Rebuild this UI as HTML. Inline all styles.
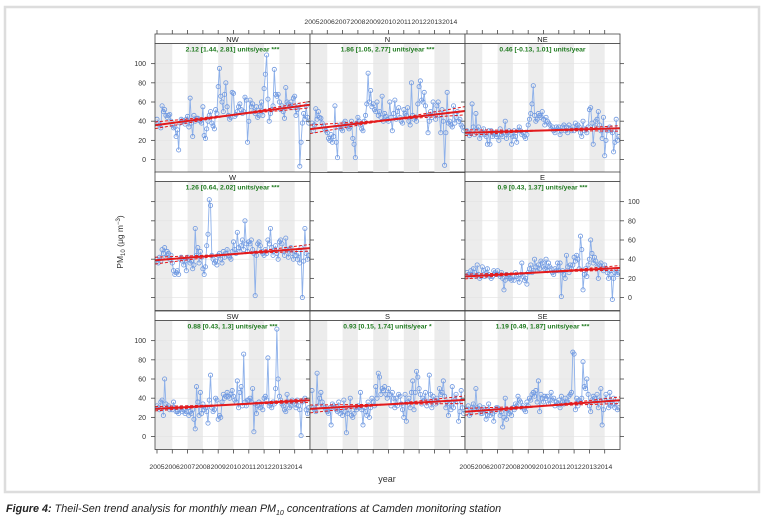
<!DOCTYPE html>
<html><head><meta charset="utf-8">
<style>
html,body{margin:0;padding:0;background:#fff;width:769px;height:527px;overflow:hidden}
svg text{font-family:"Liberation Sans",sans-serif}
.cap{position:absolute;left:6px;top:503px;font-family:"Liberation Sans",sans-serif;font-style:italic;font-size:10.8px;color:#222}
</style></head><body>
<svg id="chart" width="769" height="527" style="position:absolute;left:0;top:0">
<rect x="5" y="7" width="754" height="485" fill="none" stroke="#ddd" stroke-width="2.5"/>
</svg>
<div class="cap"><b>Figure 4:</b> Theil-Sen trend analysis for monthly mean PM<sub style="font-size:7px">10</sub> concentrations at Camden monitoring station</div>
<script>
const panelNames=["NW","N","NE","W","E","SW","S","SE"];
const panelCols=[0,1,2,0,2,0,1,2];
const panelRows=[0,0,0,1,1,2,2,2];
const statLabels=["2.12 [1.44, 2.81] units/year ***","1.86 [1.05, 2.77] units/year ***","0.46 [-0.13, 1.01] units/year","1.26 [0.64, 2.02] units/year ***","0.9 [0.43, 1.37] units/year ***","0.88 [0.43, 1.3] units/year ***","0.93 [0.15, 1.74] units/year *","1.19 [0.49, 1.87] units/year ***"];
const trendStart=[36,32,28,39,22,29,29,26];
const slopes=[2.12,1.86,0.46,1.26,0.9,0.88,0.93,1.19];
const slopeLow=[1.44,1.05,-0.13,0.64,0.43,0.43,0.15,0.49];
const slopeHigh=[2.81,2.77,1.01,2.02,1.37,1.3,1.74,1.87];
const xTicks=[2005,2006,2007,2008,2009,2010,2011,2012,2013,2014];
const yTicks=[0,20,40,60,80,100];
const seriesNW=[42,38,36,33,56,50,52,46,44,46,47,40,36,33,34,24,31,10,38,42,41,40,37,42,45,34,64,38,24,46,40,43,43,41,40,38,55,25,22,32,40,46,50,38,35,32,52,48,76,95,66,60,50,68,80,55,46,42,44,70,69,45,47,50,55,58,52,48,50,65,62,18,40,62,55,58,50,48,55,44,46,55,60,46,74,89,109,63,40,48,52,56,94,68,66,68,60,52,56,50,43,75,60,58,55,60,54,64,66,46,52,56,-7,18,38,48,42,56,44,38];
const seriesN=[38,30,36,53,42,50,44,43,38,35,32,30,28,22,20,26,18,24,56,18,2,34,36,32,30,38,40,36,34,32,34,40,22,16,2,38,44,40,36,32,30,40,46,58,90,60,72,55,58,52,50,60,46,50,44,66,40,48,45,42,40,60,44,30,48,62,42,50,54,44,40,38,52,48,46,54,40,36,80,46,42,44,40,58,76,82,62,60,70,56,46,28,40,50,44,60,48,42,56,60,46,28,52,40,-6,28,70,38,40,36,34,56,38,44,50,40,42,36,34,30];
const seriesNE=[30,28,25,27,58,34,26,48,30,34,22,26,28,32,26,24,16,30,16,30,24,28,26,24,26,20,32,26,24,28,40,22,28,30,26,16,24,30,24,18,30,34,30,26,28,24,22,26,36,42,48,58,77,46,40,42,48,46,44,50,42,36,44,40,38,36,32,34,30,28,34,32,34,26,30,34,36,30,34,28,36,32,30,34,30,38,32,36,34,28,24,40,30,32,28,34,52,54,38,16,34,40,42,50,36,30,22,44,4,20,30,32,34,30,28,8,18,42,20,24];
const seriesW=[40,36,42,38,50,46,52,42,48,46,40,44,36,28,24,26,28,24,40,42,38,34,38,28,42,40,36,38,30,34,72,44,52,36,48,42,30,24,32,54,66,102,96,44,40,36,38,34,44,46,40,36,48,42,46,50,44,42,40,48,58,50,46,68,52,48,54,60,50,80,56,48,58,56,60,50,46,2,44,56,58,54,48,46,44,50,46,60,56,72,52,44,50,54,46,40,58,60,56,48,44,62,50,42,50,52,46,40,48,44,40,46,36,52,0,38,72,46,40,44];
const seriesE=[26,24,22,28,24,30,26,22,34,24,20,22,32,28,22,26,30,24,22,20,22,28,26,24,28,24,22,26,20,8,18,24,22,20,20,18,22,18,26,22,20,16,24,36,22,18,20,14,26,30,34,26,28,40,32,28,34,30,38,36,32,30,40,28,36,32,30,26,24,30,28,36,28,36,1,28,24,20,44,32,26,34,30,34,42,38,44,40,30,64,50,8,24,30,22,34,40,60,46,36,42,38,32,20,34,36,30,28,34,30,26,20,28,24,-2,20,26,28,24,26];
const seriesSW=[32,30,28,36,38,22,60,34,30,32,28,30,28,36,30,26,26,24,28,30,26,28,24,26,30,22,26,24,28,18,8,52,36,22,46,24,34,28,30,26,14,38,64,30,26,28,40,38,18,22,20,36,44,40,42,46,42,40,44,48,42,38,36,58,30,46,52,32,86,36,32,38,38,40,36,50,5,34,24,32,36,30,34,28,40,42,38,82,32,34,30,36,34,50,112,60,42,38,34,32,28,26,44,36,30,32,38,36,34,30,38,32,28,1,36,38,40,28,24,30];
const seriesS=[48,30,28,26,66,32,40,46,36,32,30,28,26,24,30,12,34,32,30,28,26,36,24,28,22,38,26,4,24,28,40,22,20,24,30,28,32,30,46,28,12,30,26,22,36,20,30,40,36,32,52,40,66,62,44,50,48,52,44,40,50,44,32,46,40,30,40,32,44,42,34,28,20,44,16,36,40,30,46,58,28,46,68,62,50,44,34,40,38,46,32,36,64,44,30,42,38,34,40,36,50,44,46,58,42,30,36,22,34,28,52,30,38,44,36,16,26,48,30,24];
const seriesSE=[28,32,22,24,30,34,28,50,30,28,32,24,24,30,28,18,22,34,22,28,24,16,26,30,30,28,22,26,10,20,40,18,28,24,26,22,30,28,34,32,42,38,36,30,32,28,26,36,32,40,38,44,46,42,48,36,58,26,44,40,36,42,40,42,34,38,46,38,40,32,36,34,38,30,42,36,34,40,36,36,42,44,46,88,86,28,40,32,38,36,40,78,52,50,60,44,32,26,38,42,40,36,44,30,38,50,12,28,38,44,36,30,46,32,34,40,30,36,28,30];
const allSeries=[seriesNW,seriesN,seriesNE,seriesW,seriesE,seriesSW,seriesS,seriesSE];

const svg=document.getElementById('chart');
const NS='http://www.w3.org/2000/svg';
const colX=[155,310,465], PW=155, rowTop=[34,172,311], SH=9.5, PH=129;
const X0=2004.87, X1=2015.0, Y0=-13.5, Y1=121;
function mk(tag,attrs,parent){const e=document.createElementNS(NS,tag);for(const k in attrs)e.setAttribute(k,attrs[k]);(parent||svg).appendChild(e);return e;}
function xs(c,v){return colX[c]+(v-X0)/(X1-X0)*PW;}
function ys(r,v){const top=rowTop[r]+SH;return top+PH-(v-Y0)/(Y1-Y0)*PH;}

const ep=mk('rect',{x:colX[1],y:rowTop[1],width:PW,height:SH+PH,fill:'#fff',stroke:'#444','stroke-width':0.8});



panelNames.forEach((nm,i)=>{
  const c=panelCols[i], r=panelRows[i];
  const g=mk('g',{});
  
  
  const top=rowTop[r]+SH;
  const clipId='clip'+i;
  const cp=mk('clipPath',{id:clipId},g);
  mk('rect',{x:colX[c],y:top,width:PW,height:PH},cp);
  const inner=mk('g',{'clip-path':'url(#'+clipId+')'},g);
  xTicks.forEach((yr,k)=>{ if(k%2===0){
    const b=mk('rect',{x:xs(c,yr-0.13*(k===0)),y:top,width:xs(c,yr+1)-xs(c,yr-0.13*(k===0)),height:PH,fill:'#ececec'},inner);
    
    
  }});
  yTicks.forEach(v=>{mk('line',{x1:colX[c],x2:colX[c]+PW,y1:ys(r,v),y2:ys(r,v),stroke:'#e2e2e2','stroke-width':0.6},inner);});
  const data=allSeries[i];
  const pts=data.map((v,m)=>[xs(c,2005+m/12),ys(r,v)]);
  const ln=mk('polyline',{points:pts.map(p=>p.join(',')).join(' '),fill:'none',stroke:'#8eb1ea','stroke-width':0.9},inner);
  
  
  pts.forEach(p=>{
    const ci=mk('circle',{cx:p[0],cy:p[1],r:2.1,fill:'none',stroke:'#6f98e0','stroke-width':0.8},inner);
    
    
  });
  const mid=2010, midV=trendStart[i]+slopes[i]*(mid-2005);
  [[slopeLow[i],1,'3,2'],[slopeHigh[i],1,'3,2'],[slopes[i],2,'']].forEach(([s,w,d],k)=>{
    const a=X0, b=X1;
    const t=mk('line',{x1:xs(c,a),y1:ys(r,midV+s*(a-mid)),x2:xs(c,b),y2:ys(r,midV+s*(b-mid)),stroke:'#e31a1c','stroke-width':w,'stroke-dasharray':d},inner);
    
    
  });
  mk('rect',{x:colX[c],y:top,width:PW,height:PH,fill:'none',stroke:'#444','stroke-width':0.8},g);
  const st=mk('rect',{x:colX[c],y:rowTop[r],width:PW,height:SH,fill:'#fff',stroke:'#444','stroke-width':0.8},g);
  
  
  const stt=mk('text',{x:colX[c]+PW/2,y:rowTop[r]+7.8,'text-anchor':'middle','font-size':7.5,fill:'#222'},g);
  stt.textContent=nm;
  
  
  const sl=mk('text',{x:colX[c]+PW/2,y:top+8,'text-anchor':'middle','font-size':6.8,'font-weight':'bold',fill:'#1f7a1f'},g);
  sl.textContent=statLabels[i];
  
  
  yTicks.forEach(v=>{
    const y=ys(r,v);
    mk('line',{x1:colX[c],x2:colX[c]-4,y1:y,y2:y,stroke:'#444','stroke-width':0.8},g);
    mk('line',{x1:colX[c]+PW,x2:colX[c]+PW+4,y1:y,y2:y,stroke:'#444','stroke-width':0.8},g);
  });
});

[0,2].forEach(r=>{yTicks.forEach(v=>{
  const t=mk('text',{x:146,y:ys(r,v)+2.5,'text-anchor':'end','font-size':7,fill:'#333'});
  t.textContent=v;
  
  
});});
yTicks.forEach(v=>{
  const t=mk('text',{x:628,y:ys(1,v)+2.5,'text-anchor':'start','font-size':7,fill:'#333'});
  t.textContent=v;
  
  
});
[0,1,2].forEach(c=>{
  xTicks.forEach(yr=>{
    const x=xs(c,yr);
    mk('line',{x1:x,x2:x,y1:rowTop[0],y2:rowTop[0]-4,stroke:'#444','stroke-width':0.8});
    mk('line',{x1:x,x2:x,y1:rowTop[2]+SH+PH,y2:rowTop[2]+SH+PH+4,stroke:'#444','stroke-width':0.8});
    if(c===1){const t=mk('text',{x:x,y:24,'text-anchor':'middle','font-size':6.8,fill:'#333'});t.textContent=yr;
      
      }
    if(c!==1){const t=mk('text',{x:x,y:469,'text-anchor':'middle','font-size':6.8,fill:'#333'});t.textContent=yr;
      
      }
  });
});
const xt=mk('text',{x:387,y:482,'text-anchor':'middle','font-size':9,fill:'#333'});
xt.textContent='year';


const yt=mk('text',{x:0,y:0,'text-anchor':'middle','font-size':8.5,fill:'#333',transform:'translate(123,242) rotate(-90)'});
yt.innerHTML='PM<tspan font-size="6" dy="2">10</tspan><tspan dy="-2"> (μg m</tspan><tspan font-size="6" dy="-3">−3</tspan><tspan dy="3">)</tspan>';


</script>
</body></html>
